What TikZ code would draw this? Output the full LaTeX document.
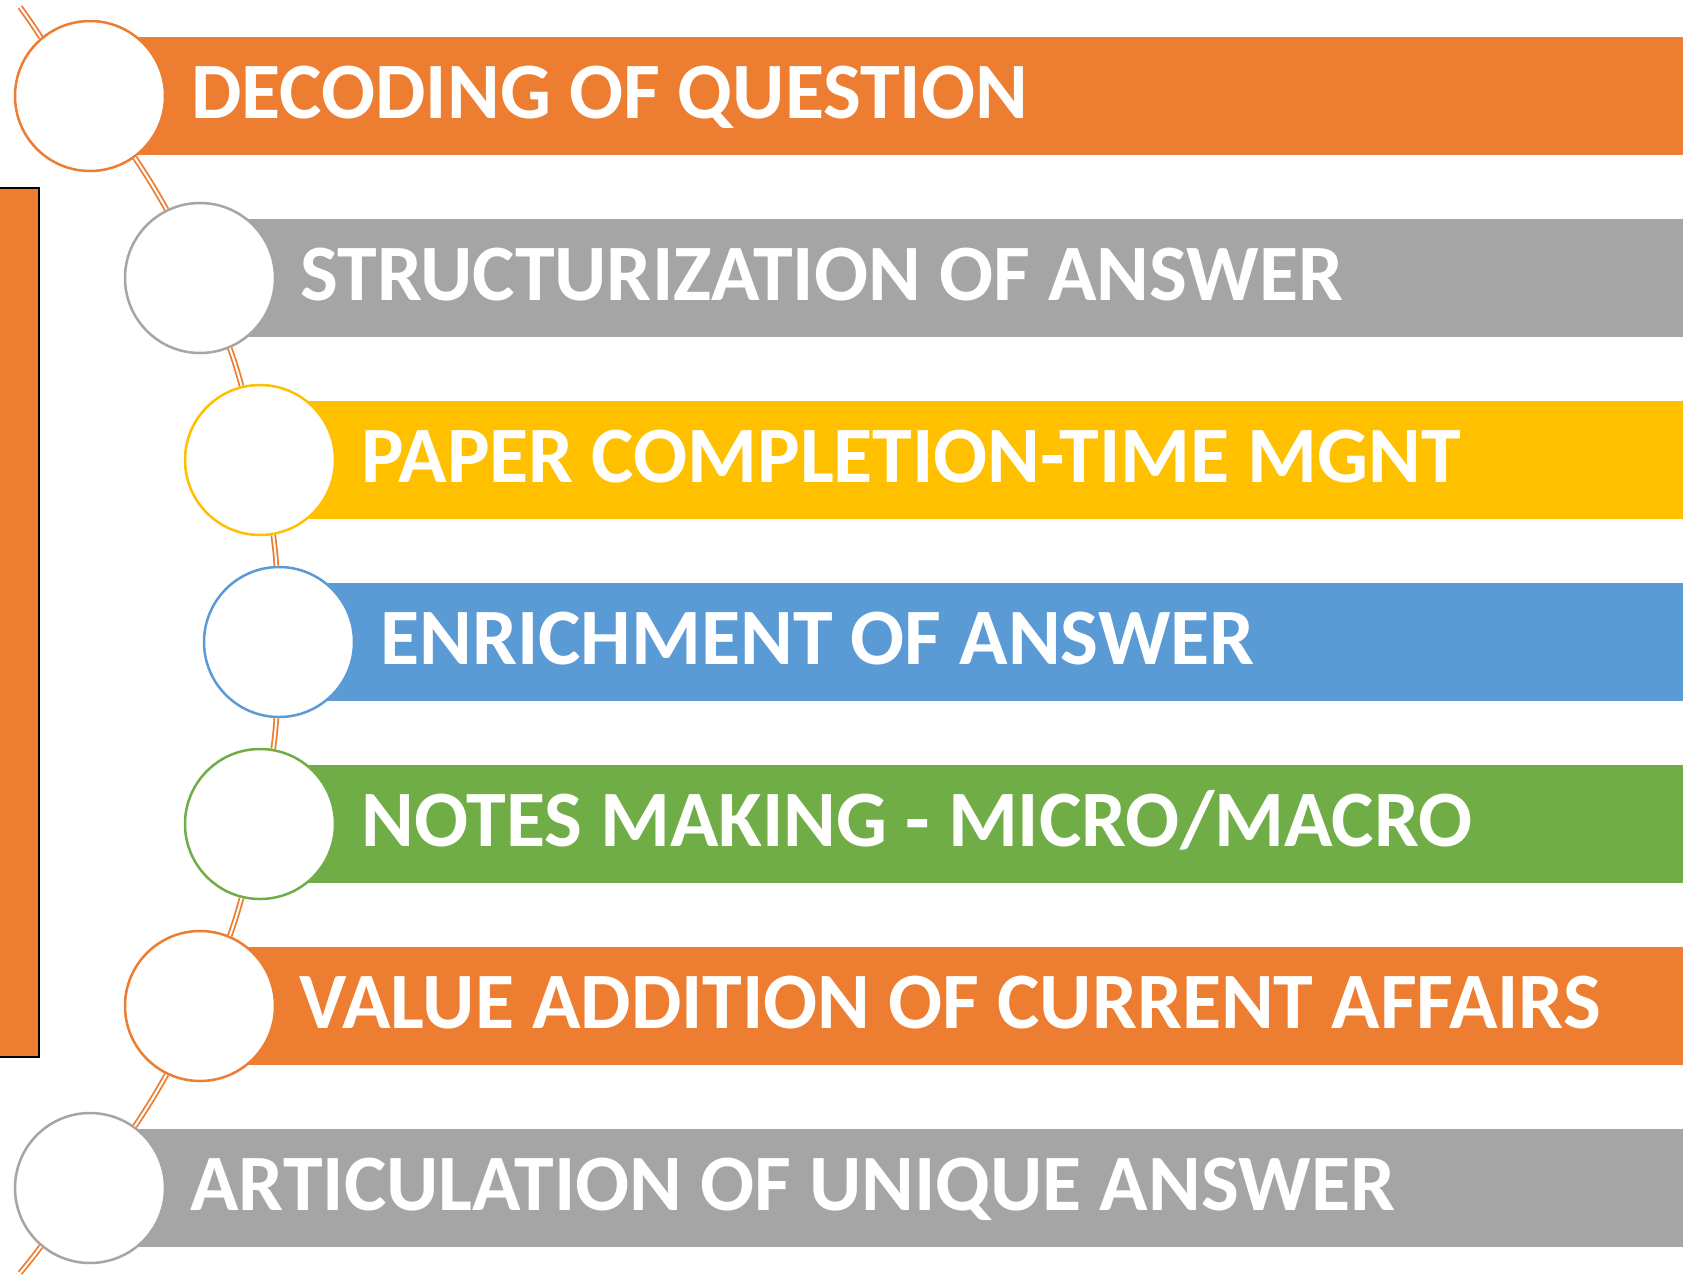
\documentclass[tikz,border=0pt]{standalone}
\usepackage{fontspec}
\setmainfont{Carlito}
\definecolor{corange}{HTML}{ED7D31}
\definecolor{cgray}{HTML}{A5A5A5}
\definecolor{cyellow}{HTML}{FFC000}
\definecolor{cblue}{HTML}{5B9BD5}
\definecolor{cgreen}{HTML}{70AD47}
\begin{document}
\begin{tikzpicture}[x=0.5pt,y=-0.5pt,
  circ/.style={circle, draw=#1, fill=white, line width=1.25pt, minimum size=75pt, inner sep=0pt},
  lbl/.style={anchor=base west, text=white, font=\bfseries\fontsize{40}{41}\selectfont, inner sep=0pt},
  conn/.style={draw=corange, double=white, line width=0.9pt, double distance=1pt}]
\useasboundingbox (0,0) rectangle (1683,1276);
% left bar
\draw[fill=corange, draw=black, line width=1pt] (-5,188) rectangle (39,1057);
% bands
\fill[corange] (90,37) rectangle (1700,155);
\fill[cgray] (200,219) rectangle (1700,337);
\fill[cyellow] (260,401) rectangle (1700,519);
\fill[cblue] (279,583) rectangle (1700,701);
\fill[cgreen] (260,765) rectangle (1700,883);
\fill[corange] (200,947) rectangle (1700,1065);
\fill[cgray] (90,1129) rectangle (1700,1247);
% circles
\node[circ=corange] (c1) at (90,96) {};
\node[circ=cgray] (c2) at (200,278) {};
\node[circ=cyellow] (c3) at (260,460) {};
\node[circ=cblue] (c4) at (279,642) {};
\node[circ=cgreen] (c5) at (260,824) {};
\node[circ=corange] (c6) at (200,1006) {};
\node[circ=cgray] (c7) at (90,1188) {};
% labels
\node[lbl] (t1) at (191,118) {DECODING OF QUESTION};
\node[lbl] (t2) at (300,300) {STRUCTURIZATION OF ANSWER};
\node[lbl] (t3) at (361,482) {PAPER COMPLETION-TIME MGNT};
\node[lbl] (t4) at (380,664) {ENRICHMENT OF ANSWER};
\node[lbl] (t5) at (361,846) {NOTES MAKING - MICRO/MACRO};
\node[lbl] (t6) at (299,1028) {VALUE ADDITION OF CURRENT AFFAIRS};
\node[lbl] (t7) at (190,1210) {ARTICULATION OF UNIQUE ANSWER};
% connectors
\coordinate (top) at (20,7);
\coordinate (bot) at (20,1273);
\draw[conn] (top) to[bend left=1.5] (c1.130.7);
\draw[conn] (c1.-54.3) to[bend left=2] (c2.116.5);
\draw[conn] (c2.-67.7) to[bend left=2] (c3.104.3);
\draw[conn] (c3.-80.5) to[bend left=2] (c4.92.4);
\draw[conn] (c4.-92.4) to[bend left=2] (c5.80.5);
\draw[conn] (c5.-104.3) to[bend left=2] (c6.67.7);
\draw[conn] (c6.-116.5) to[bend left=2] (c7.54.3);
\draw[conn] (c7.-130.7) to[bend left=1.5] (bot);
\end{tikzpicture}
\end{document}
